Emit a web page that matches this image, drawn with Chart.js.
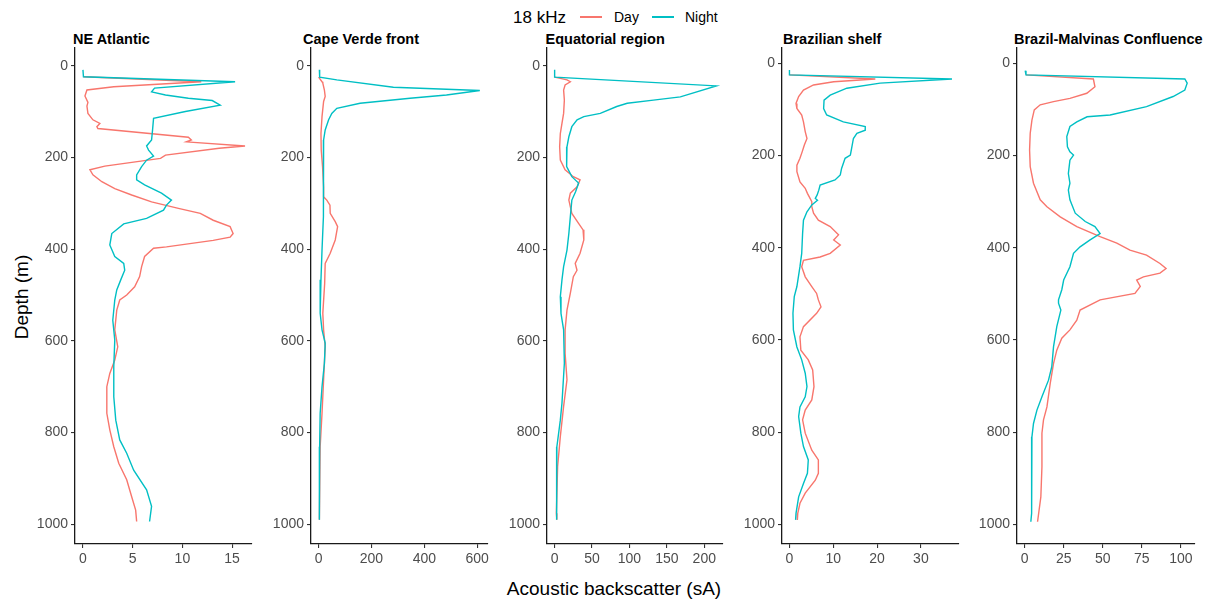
<!DOCTYPE html>
<html>
<head>
<meta charset="utf-8">
<title>18 kHz depth profiles</title>
<script src="https://cdn.jsdelivr.net/npm/chart.js@4.4.0/dist/chart.umd.min.js"></script>
<style>
  body { margin: 0; background: #fff; width: 1211px; height: 603px; position: relative; overflow: hidden;
         font-family: "Liberation Sans", Arial, sans-serif; }
  canvas { position: absolute; top: 0; }
  .txt { position: absolute; white-space: nowrap; color: #000; line-height: 20px; }
  .strip { font-weight: bold; font-size: 14.5px; }
  .key { position: absolute; height: 1.6px; width: 22px; }
</style>
</head>
<body>

<div class="txt" style="left:513px; top:7.5px; font-size:17px;">18 kHz</div>
<div class="key" style="left:580px; top:16px; background:#F8766D;"></div>
<div class="txt" style="left:614px; top:6.7px; font-size:14px;">Day</div>
<div class="key" style="left:652px; top:16px; background:#00BFC4;"></div>
<div class="txt" style="left:685px; top:6.7px; font-size:14px;">Night</div>

<div class="txt" style="left:614px; top:577px; font-size:19px; line-height:24px; transform:translateX(-50%);">Acoustic backscatter (sA)</div>
<div class="txt" style="left:22px; top:297px; font-size:19px; line-height:24px; transform:translate(-50%,-50%) rotate(-90deg);">Depth (m)</div>

<div id="panels"></div>

<script>
// Profiles: [depth (m), acoustic backscatter sA]
const neAtlanticDay = [[24,0.05],[35,11.9],[46,3.1],[53,0.4],[66,0.2],[80,0.5],[88,0.4],[104,0.5],[118,1.0],[126,1.7],[133,1.4],[137,1.5],[156,10.6],[162,10.9],[166,10.4],[175,16.3],[180,13.7],[195,8.3],[202,7.8],[219,2.2],[227,0.7],[238,1.0],[253,1.9],[268,3.2],[282,4.9],[297,6.9],[311,9.6],[322,11.8],[337,13.1],[351,14.8],[366,15.1],[374,14.8],[381,13.1],[395,8.4],[398,7.1],[416,6.2],[438,5.9],[460,5.7],[482,5.2],[500,4.4],[511,3.7],[533,3.4],[576,3.2],[613,3.5],[642,3.2],[671,2.7],[700,2.4],[758,2.4],[794,2.7],[831,3.1],[867,3.6],[903,4.4],[940,4.9],[969,5.3],[994,5.4]];
const neAtlanticNight = [[9,0],[24,0.05],[35,15.3],[49,7.2],[57,6.9],[64,8.3],[71,10.6],[76,13.0],[86,13.8],[100,10.3],[115,7.1],[140,7.0],[162,6.9],[175,6.4],[184,6.6],[197,7.1],[206,6.4],[220,5.9],[238,5.4],[249,5.4],[260,6.2],[278,7.9],[293,8.9],[304,8.4],[315,8.1],[333,6.4],[345,4.1],[366,2.9],[391,2.7],[416,3.2],[431,4.1],[446,4.2],[467,3.8],[489,3.4],[511,3.2],[555,3.0],[598,3.2],[656,3.1],[722,3.1],[773,3.3],[816,3.7],[845,4.4],[882,5.1],[925,6.4],[961,6.9],[994,6.7]];

const capeVerdeDay = [[25,0],[35,13],[38,16],[53,22],[67,25],[78,19],[111,13],[148,9],[184,10],[220,15],[264,19],[286,19],[293,31],[304,43],[322,44],[340,63],[351,72],[380,63],[409,44],[431,25],[475,23],[540,16],[576,19],[613,25],[685,19],[758,13],[831,6],[990,3]];
const capeVerdeNight = [[9,3],[25,4],[31,69],[47,283],[54,610],[64,484],[71,346],[82,157],[93,69],[104,50],[118,38],[140,25],[162,19],[199,19],[256,19],[329,17],[402,13],[467,9],[540,6],[576,13],[605,25],[649,22],[700,13],[758,6],[831,4],[990,3]];

const equatorialDay = [[25,0],[31,16.5],[35,21],[42,14],[53,12],[75,13],[104,12],[126,9.8],[148,7.6],[177,6.7],[206,7.6],[227,14],[242,25],[249,34],[264,30],[278,21],[293,19],[322,23],[344,32],[358,38],[380,39],[409,34],[431,27.5],[446,29.9],[460,25],[496,21],[533,16.5],[576,14],[627,14],[685,16.5],[743,12],[809,7.6],[874,4],[976,2.3],[990,3]];
const equatorialNight = [[9,0],[25,0],[44,216],[68,168],[75,132],[82,97],[89,83],[104,61],[111,39],[118,30],[133,23],[155,19],[177,16.5],[199,15.6],[220,16.5],[242,23],[256,32],[275,28],[293,23],[329,21],[366,19],[402,16.5],[438,12],[467,9.8],[504,7.6],[540,8.5],[576,12],[649,13],[736,9.8],[773,7.6],[831,3],[903,2.3],[990,3]];

const brazilShelfDay = [[25,0],[34,19.6],[40,10.1],[47,5.5],[58,3.2],[72,2.1],[87,1.5],[98,1.7],[112,2.8],[127,3.2],[148,3.6],[163,4.0],[177,3.4],[192,2.9],[206,2.4],[221,1.7],[235,1.7],[257,2.4],[271,3.6],[282,4.1],[300,5.1],[311,5.1],[325,5.5],[340,6.6],[354,9.3],[372,11.2],[383,10.1],[394,11.6],[412,9.3],[420,7.0],[427,3.2],[441,2.8],[463,3.6],[484,5.1],[499,6.2],[513,6.6],[528,7.2],[542,6.2],[571,3.2],[593,2.4],[622,2.6],[643,4.3],[665,5.3],[701,5.6],[730,5.1],[752,3.6],[773,3.0],[802,3.6],[839,5.1],[860,6.6],[889,6.6],[904,5.9],[932,3.6],[954,2.4],[976,1.9],[990,1.8]];
const brazilShelfNight = [[14.5,0],[25,0],[34,37.1],[43,20.7],[54,13.1],[69,9.3],[80,7.9],[98,7.8],[112,8.5],[127,12.3],[137,17.3],[145,17.3],[152,15.4],[163,14.6],[184,14.2],[199,13.9],[206,12.7],[228,11.9],[242,11.6],[253,10.4],[264,7.0],[275,6.7],[286,6.3],[293,5.9],[297,6.4],[307,5.1],[322,4.0],[340,3.2],[369,3.0],[412,2.8],[441,2.4],[484,1.7],[506,1.1],[542,0.8],[578,0.9],[615,1.7],[643,2.8],[672,3.6],[701,4.0],[723,3.6],[745,2.4],[766,2.1],[802,2.6],[831,3.2],[860,4.3],[889,4.1],[911,3.2],[940,2.1],[976,1.5],[990,1.4]];

const malvinasDay = [[25,0.9],[34,44],[51,45],[65,39.8],[76,29],[83,18.5],[90,10],[101,6.2],[123,4.7],[152,3.6],[188,3.2],[224,3.6],[260,5.7],[296,10],[311,14.3],[333,22.8],[354,33.4],[376,48.3],[390,59],[405,67.4],[416,78],[434,86.6],[445,90.5],[455,86.6],[463,76],[470,71.7],[484,74],[499,70.6],[513,48.3],[535,35.5],[557,33.4],[578,29],[596,23.8],[622,20.6],[651,18.5],[694,16.4],[745,14.3],[773,12.1],[802,11.1],[875,11.1],[940,10.4],[994,8.3]];
const malvinasNight = [[16,0.4],[25,0.9],[34,102.5],[43,104],[58,102.5],[72,95],[94,78],[112,54.7],[116,40],[127,33.4],[137,29],[159,27],[181,27.4],[192,29],[199,31.3],[210,29],[239,28],[260,29],[275,28],[296,29],[325,32.4],[343,38.8],[354,45],[369,48.3],[383,41.9],[398,35.5],[412,31.3],[441,29],[470,25],[491,23.8],[513,21.7],[520,21.7],[535,23.2],[571,20.6],[615,18.5],[658,17.4],[687,15.3],[723,11.1],[752,7.9],[781,5.7],[810,4.7],[904,4.7],[976,4.3],[994,4]];

const regions = ['NE Atlantic', 'Cape Verde front', 'Equatorial region', 'Brazilian shelf', 'Brazil-Malvinas Confluence'];
const depthTicks = [0, 200, 400, 600, 800, 1000];
const sATicks = [[0, 5, 10, 15], [0, 200, 400, 600], [0, 50, 100, 150, 200], [0, 10, 20, 30], [0, 25, 50, 75, 100]];
const dayProfiles = [neAtlanticDay, capeVerdeDay, equatorialDay, brazilShelfDay, malvinasDay];
const nightProfiles = [neAtlanticNight, capeVerdeNight, equatorialNight, brazilShelfNight, malvinasNight];

// panel geometry (pixels) and axis ranges
const layout = [
  { axisX: 75,   right: 252,  titleX: 73,   xMin: -0.8,  xMax: 17.0, yMin: -38.6, yMax: 1043 },
  { axisX: 311,  right: 488,  titleX: 303,  xMin: -28.7, xMax: 641,  yMin: -38.6, yMax: 1043 },
  { axisX: 547,  right: 723,  titleX: 545.5,xMin: -10.2, xMax: 225,  yMin: -38.6, yMax: 1043 },
  { axisX: 782,  right: 959,  titleX: 783,  xMin: -1.7,  xMax: 38.7, yMin: -33.2, yMax: 1042.3 },
  { axisX: 1017, right: 1195, titleX: 1014, xMin: -4.85, xMax: 109,  yMin: -33.2, yMax: 1042.3 }
];

const DAY = '#F8766D', NIGHT = '#00BFC4';
const Y_AXIS_W = 50, X_AXIS_H = 30, PLOT_TOP = 48, PAD_R = 8;

Chart.defaults.font.family = '"Liberation Sans", Arial, sans-serif';

const toPoints = arr => arr.map(([d, v]) => ({ x: v, y: d }));

const host = document.getElementById('panels');

regions.forEach((name, i) => {
  const L = layout[i];

  const t = document.createElement('div');
  t.className = 'txt strip';
  t.style.left = L.titleX + 'px';
  t.style.top = '28.7px';
  t.textContent = name;
  host.appendChild(t);

  const cv = document.createElement('canvas');
  const w = L.right - L.axisX + Y_AXIS_W + PAD_R;
  cv.width = w; cv.height = 574;
  cv.style.left = (L.axisX - Y_AXIS_W) + 'px';
  cv.style.width = w + 'px'; cv.style.height = '574px';
  host.appendChild(cv);

  const axisStyle = {
    border: { display: true, color: '#1a1a1a', width: 1.3 },
    grid: { display: true, drawOnChartArea: false, drawTicks: true, tickLength: 4, color: '#333333', lineWidth: 1.1 },
  };
  const tickStyle = { color: '#4D4D4D', font: { size: 14 }, padding: 3, maxRotation: 0, autoSkip: false,
                      callback: v => String(v) };

  new Chart(cv, {
    type: 'scatter',
    data: {
      datasets: [
        { label: 'Night', data: toPoints(nightProfiles[i]), borderColor: NIGHT, backgroundColor: NIGHT,
          showLine: true, pointRadius: 0, pointHoverRadius: 0, borderWidth: 1.4, order: 1 },
        { label: 'Day', data: toPoints(dayProfiles[i]), borderColor: DAY, backgroundColor: DAY,
          showLine: true, pointRadius: 0, pointHoverRadius: 0, borderWidth: 1.4, order: 2 }
      ]
    },
    options: {
      responsive: false,
      animation: false,
      events: [],
      layout: { padding: { left: 0, right: PAD_R, top: PLOT_TOP, bottom: 0 } },
      plugins: { legend: { display: false }, tooltip: { enabled: false } },
      scales: {
        x: {
          type: 'linear', position: 'bottom', min: L.xMin, max: L.xMax,
          ...axisStyle,
          ticks: tickStyle,
          afterBuildTicks: s => { s.ticks = sATicks[i].map(v => ({ value: v })); },
          afterFit: s => { s.height = X_AXIS_H; }
        },
        y: {
          type: 'linear', position: 'left', reverse: true, min: L.yMin, max: L.yMax,
          ...axisStyle,
          ticks: tickStyle,
          afterBuildTicks: s => { s.ticks = depthTicks.map(v => ({ value: v })); },
          afterFit: s => { s.width = Y_AXIS_W; }
        }
      }
    }
  });
});
</script>
</body>
</html>
